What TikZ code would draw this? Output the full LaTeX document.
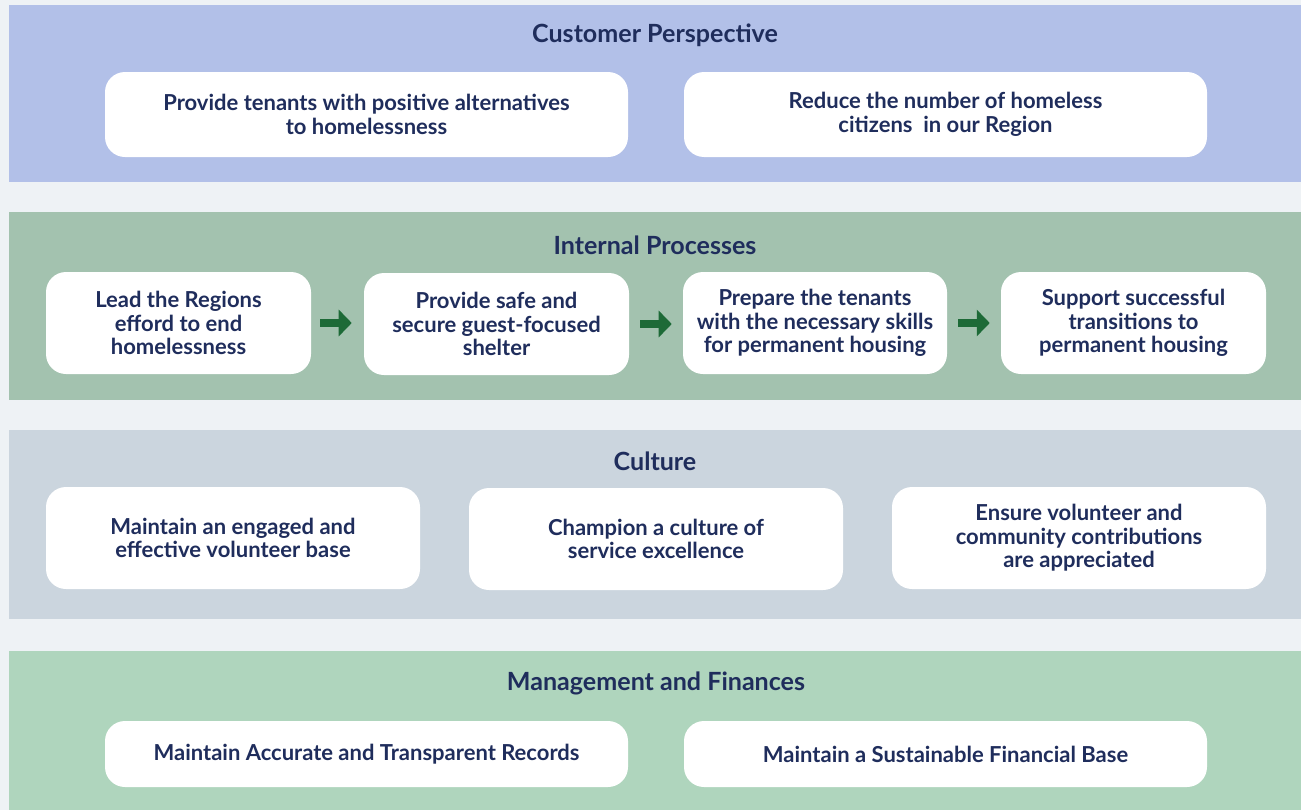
\documentclass[tikz,border=0pt]{standalone}
\usepackage{fontspec}
\setmainfont{Lato}
\usetikzlibrary{arrows.meta}
\definecolor{bgc}{HTML}{EEF2F5}
\definecolor{bandA}{HTML}{B2C0E8}
\definecolor{bandB}{HTML}{A3C2AF}
\definecolor{bandC}{HTML}{CBD5DE}
\definecolor{bandD}{HTML}{AFD5BD}
\definecolor{navy}{HTML}{1F2D5C}
\definecolor{arrowgreen}{HTML}{1D6A37}
\begin{document}
\begin{tikzpicture}[x=0.75pt,y=-0.75pt,
  box/.style={fill=white, rounded corners=15pt, align=center, text=navy,
    font=\bfseries\fontsize{16.5}{17.6}\selectfont, inner sep=0pt},
  bandtitle/.style={text=navy, font=\bfseries\fontsize{18.8}{20}\selectfont, inner sep=0pt},
  flow/.style={draw=arrowgreen, line width=6pt,
    -{Triangle[length=13*0.75pt, width=26*0.75pt]}}
]
\fill[bgc] (0,0) rectangle (1301,810);
\useasboundingbox (0,0) rectangle (1301,810);
% bands
\fill[bandA] (9,5) rectangle (1301,182);
\fill[bandB] (9,212) rectangle (1301,400);
\fill[bandC] (9,430) rectangle (1301,619);
\fill[bandD] (9,651) rectangle (1301,810);
% titles
\node[bandtitle] (t1) at (655,35) {Customer Perspective};
\node[bandtitle] (t2) at (655,245) {Internal Processes};
\node[bandtitle] (t3) at (655,461) {Culture};
\node[bandtitle] (t4) at (656,683) {Management and Finances};
% customer
\node[box, minimum width=523*0.75pt, minimum height=85*0.75pt] (cp1) at (366.5,114.5)
  {Provide tenants with positive alternatives\\to homelessness};
\node[box, minimum width=523*0.75pt, minimum height=85*0.75pt] (cp2) at (945.5,114.5)
  {Reduce the number of homeless\\citizens~ in our Region};
% internal
\node[box, minimum width=265*0.75pt, minimum height=102*0.75pt] (ip1) at (178.5,323)
  {Lead the Regions\\efford to end\\homelessness};
\node[box, minimum width=265*0.75pt, minimum height=102*0.75pt] (ip2) at (496.5,324)
  {Provide safe and\\secure guest-focused\\shelter};
\node[box, minimum width=264*0.75pt, minimum height=102*0.75pt] (ip3) at (815,323)
  {Prepare the tenants\\with the necessary skills\\for permanent housing};
\node[box, minimum width=265*0.75pt, minimum height=102*0.75pt] (ip4) at (1133.5,323)
  {Support successful\\transitions to\\permanent housing};
\draw[flow, shorten <=9*0.75pt, shorten >=12*0.75pt] (ip1.east) -- (ip1.east -| ip2.west);
\draw[flow, shorten <=11*0.75pt, shorten >=11*0.75pt] (ip2.east) -- (ip2.east -| ip3.west);
\draw[flow, shorten <=11*0.75pt, shorten >=11*0.75pt] (ip3.east) -- (ip3.east -| ip4.west);
% culture
\node[box, minimum width=374*0.75pt, minimum height=102*0.75pt] (cu1) at (233,538)
  {Maintain an engaged and\\effective volunteer base};
\node[box, minimum width=374*0.75pt, minimum height=102*0.75pt] (cu2) at (656,539)
  {Champion a culture of\\service excellence};
\node[box, minimum width=374*0.75pt, minimum height=102*0.75pt] (cu3) at (1079,538)
  {Ensure volunteer and\\community contributions\\are appreciated};
% management
\node[box, minimum width=523*0.75pt, minimum height=66*0.75pt] (mf1) at (366.5,754)
  {Maintain Accurate and Transparent Records};
\node[box, minimum width=523*0.75pt, minimum height=66*0.75pt] (mf2) at (945.5,754)
  {Maintain a Sustainable Financial Base};
\end{tikzpicture}
\end{document}
